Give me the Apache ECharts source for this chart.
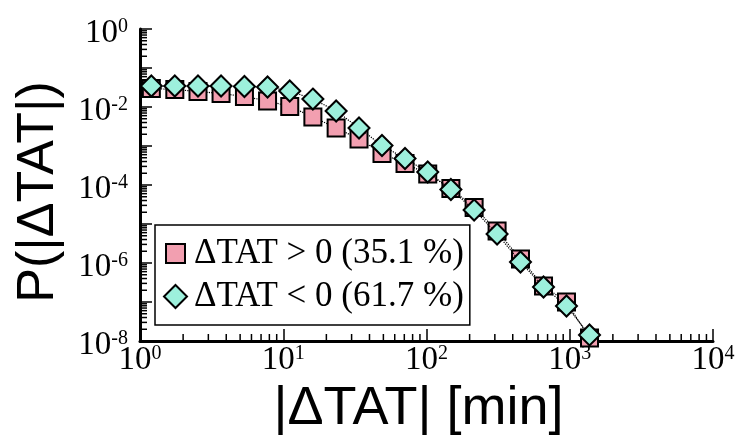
<!DOCTYPE html>
<html>
<head>
<meta charset="utf-8">
<script src="https://cdn.jsdelivr.net/npm/echarts@6/dist/echarts.min.js"></script>
<style>
  html, body { margin: 0; padding: 0; background: #fff; }
  #chart { width: 736px; height: 439px; }
</style>
</head>
<body>
<div id="chart"></div>
<script>
// |ΔTAT| bin centres in minutes (log-binned)
const binCenters = [1.20, 1.75, 2.54, 3.68, 5.36, 7.77, 11.1, 16.1, 23.4, 33.8,
                    48.9, 70.8, 102, 148, 215, 311, 453, 656, 949, 1374];
// P(|ΔTAT|) for delays (ΔTAT > 0)
const probPositive = [2.98e-2, 2.81e-2, 2.49e-2, 2.22e-2, 1.86e-2, 1.43e-2, 1.03e-2, 5.55e-3,
                      2.90e-3, 1.51e-3, 6.43e-4, 3.56e-4, 1.91e-4, 8.13e-5, 2.65e-5, 6.62e-6,
                      1.27e-6, 2.57e-7, 1.0e-7, 1.19e-8];
// P(|ΔTAT|) for early turnarounds (ΔTAT < 0)
const probNegative = [3.45e-2, 3.45e-2, 3.45e-2, 3.45e-2, 3.36e-2, 3.26e-2, 2.57e-2, 1.60e-2,
                      7.89e-3, 2.90e-3, 1.03e-3, 4.78e-4, 2.15e-4, 7.67e-5, 2.29e-5, 5.55e-6,
                      1.06e-6, 2.43e-7, 7.89e-8, 1.43e-8];
const seriesNames = ['ΔTAT > 0 (35.1 %)', 'ΔTAT < 0 (61.7 %)'];
// decade exponents that carry a tick label
const xLabelExps = [0, 1, 2, 3, 4];
const yLabelExps = [0, -2, -4, -6, -8];

const X_MIN = 1, X_MAX = 1e4, Y_MIN = 1e-8, Y_MAX = 1;

// minor tick positions (2..9 within each decade)
const xMinor = [];
for (let k = 0; k < 4; k++) for (let m = 2; m <= 9; m++) xMinor.push([m * Math.pow(10, k), Y_MIN]);
const yMinor = [];
for (let k = -8; k < 0; k++) for (let m = 2; m <= 9; m++) yMinor.push([X_MIN, m * Math.pow(10, k)]);

const PINK = '#F29FB0';
const AQUA = '#9DF0DC';
const serif = 'Liberation Serif';
const sans = 'Liberation Sans';

// "10" with a raised exponent
function richPow(raise) {
  return {
    b: { fontFamily: serif, fontSize: 33, color: '#000', verticalAlign: 'bottom', lineHeight: 33, padding: [raise, 0, 0, 0] },
    s: { fontFamily: serif, fontSize: 20, color: '#000', verticalAlign: 'top', lineHeight: 20 }
  };
}

function powLabel(v, allowed) {
  const e = Math.round(Math.log10(v));
  if (allowed.indexOf(e) < 0) return '';
  return '{b|10}{s|' + e + '}';
}

const chart = echarts.init(document.getElementById('chart'), null, { renderer: 'canvas' });

chart.setOption({
  animation: false,
  backgroundColor: '#fff',
  grid: { left: 140, right: 23, top: 29, bottom: 98, containLabel: false, outerBoundsMode: 'none' },
  legend: {
    orient: 'vertical',
    left: 155,
    top: 225,
    padding: [11, 6, 11, 8],
    itemGap: 8,
    itemWidth: 23,
    itemHeight: 23,
    backgroundColor: '#fff',
    borderColor: '#000',
    borderWidth: 1.5,
    borderRadius: 0,
    selectedMode: false,
    textStyle: { fontFamily: serif, fontSize: 35, color: '#000', lineHeight: 34, padding: [0, 0, 0, 2] },
    data: [
      { name: seriesNames[0], icon: 'path://M0,0M23,23M2,2L21,2L21,21L2,21Z',
        itemStyle: { color: PINK, borderColor: '#000', borderWidth: 2 } },
      { name: seriesNames[1], icon: 'diamond',
        itemStyle: { color: AQUA, borderColor: '#000', borderWidth: 2 } }
    ]
  },
  xAxis: {
    type: 'log',
    logBase: 10,
    min: X_MIN,
    max: X_MAX,
    splitNumber: 4,
    name: '|ΔTAT| [min]',
    nameLocation: 'middle',
    nameGap: 38,
    nameTextStyle: { fontFamily: sans, fontSize: 54, color: '#000', padding: [0, 16, 0, 0] },
    axisLine: { show: true, lineStyle: { color: '#000', width: 3 } },
    axisTick: { show: true, inside: true, length: 12, lineStyle: { color: '#000', width: 1.5 } },
    splitLine: { show: false },
    axisLabel: {
      margin: 3,
      formatter: v => powLabel(v, xLabelExps),
      rich: richPow(11)
    }
  },
  yAxis: {
    type: 'log',
    logBase: 10,
    min: Y_MIN,
    max: Y_MAX,
    splitNumber: 8,
    name: 'P(|ΔTAT|)',
    nameLocation: 'middle',
    nameRotate: 90,
    nameGap: 75,
    nameTextStyle: { fontFamily: sans, fontSize: 52, color: '#000', padding: [0, 14, 0, 0] },
    axisLine: { show: true, lineStyle: { color: '#000', width: 3 } },
    axisTick: { show: true, inside: true, length: 12, lineStyle: { color: '#000', width: 1.5 } },
    splitLine: { show: false },
    axisLabel: {
      margin: 12,
      padding: [8, 0, 0, 0],
      formatter: v => powLabel(v, yLabelExps),
      rich: richPow(6)
    }
  },
  series: [
    {
      name: 'xMinorTicks',
      type: 'custom',
      silent: true,
      clip: false,
      z: 1,
      data: xMinor,
      renderItem: (params, api) => {
        const p = api.coord([api.value(0), api.value(1)]);
        return { type: 'line', shape: { x1: p[0], y1: p[1], x2: p[0], y2: p[1] - 7 },
                 style: { stroke: '#000', lineWidth: 1.5 } };
      }
    },
    {
      name: 'yMinorTicks',
      type: 'custom',
      silent: true,
      clip: false,
      z: 1,
      data: yMinor,
      renderItem: (params, api) => {
        const p = api.coord([api.value(0), api.value(1)]);
        return { type: 'line', shape: { x1: p[0], y1: p[1], x2: p[0] + 7, y2: p[1] },
                 style: { stroke: '#000', lineWidth: 1.5 } };
      }
    },
    {
      name: seriesNames[0],
      type: 'line',
      clip: false,
      z: 3,
      data: binCenters.map((x, i) => [x, probPositive[i]]),
      symbol: 'rect',
      symbolSize: 17,
      showAllSymbol: true,
      itemStyle: { color: PINK, borderColor: '#000', borderWidth: 2 },
      lineStyle: { color: '#000', width: 1.2, type: 'dotted' }
    },
    {
      name: seriesNames[1],
      type: 'line',
      clip: false,
      z: 4,
      data: binCenters.map((x, i) => [x, probNegative[i]]),
      symbol: 'diamond',
      symbolSize: 21,
      showAllSymbol: true,
      itemStyle: { color: AQUA, borderColor: '#000', borderWidth: 2 },
      lineStyle: { color: '#000', width: 1.2, type: 'dotted' }
    }
  ]
});
</script>
</body>
</html>
